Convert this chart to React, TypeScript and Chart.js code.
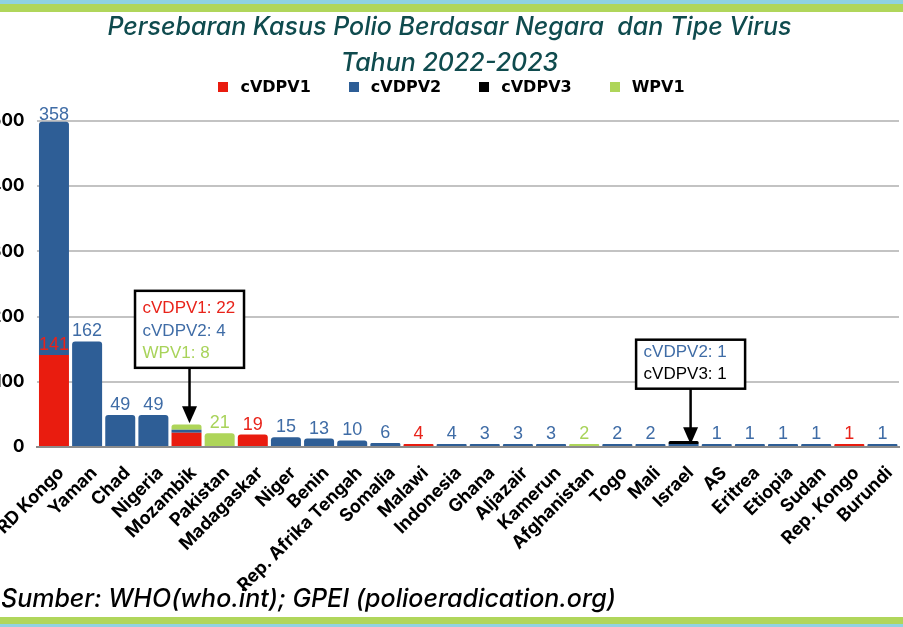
import React, { useEffect, useRef } from "react";
import { Chart, registerables } from "chart.js";

Chart.register(...registerables);

const categories = [
  "RD Kongo", "Yaman", "Chad", "Nigeria", "Mozambik", "Pakistan", "Madagaskar",
  "Niger", "Benin", "Rep. Afrika Tengah", "Somalia", "Malawi", "Indonesia", "Ghana",
  "Aljazair", "Kamerun", "Afghanistan", "Togo", "Mali", "Israel", "AS", "Eritrea",
  "Etiopia", "Sudan", "Rep. Kongo", "Burundi",
];

const seriesNames = ["cVDPV1", "cVDPV2", "cVDPV3", "WPV1"];

const cVDPV1 = [141, 0, 0, 0, 22, 0, 19, 0, 0, 0, 0, 4, 0, 0, 0, 0, 0, 0, 0, 0, 0, 0, 0, 0, 1, 0];
const cVDPV2 = [358, 162, 49, 49, 4, 0, 0, 15, 13, 10, 6, 0, 4, 3, 3, 3, 0, 2, 2, 1, 1, 1, 1, 1, 0, 1];
const cVDPV3 = [0, 0, 0, 0, 0, 0, 0, 0, 0, 0, 0, 0, 0, 0, 0, 0, 0, 0, 0, 1, 0, 0, 0, 0, 0, 0];
const WPV1 = [0, 0, 0, 0, 8, 21, 0, 0, 0, 0, 0, 0, 0, 0, 0, 0, 2, 0, 0, 0, 0, 0, 0, 0, 0, 0];

const yTicks = [0, 100, 200, 300, 400, 500];

const barColors = ["#e91c0f", "#2e5e96", "#000000", "#aed559"];
const labelColors = ["#e8231a", "#3f6ca6", "#000000", "#a8d35a"];

// categories whose values are shown in a call-out box instead of above the bar
const calloutCategories = ["Mozambik", "Israel"];
const calloutDx = [3, 7];
const calloutHeights = [77, 49];

const TITLE_COLOR = "#0f4b4e";

export default function App() {
  const canvasRef = useRef<HTMLCanvasElement | null>(null);

  useEffect(() => {
    const canvas = canvasRef.current;
    if (!canvas) return;
    const allSeries = [cVDPV1, cVDPV2, cVDPV3, WPV1];

    const labelsPlugin = {
      id: "valueLabels",
      afterDatasetsDraw(chart: any) {
        const ctx = chart.ctx;
        const area = chart.chartArea;
        const ys = chart.scales.y;
        const xs = chart.scales.x;
        ctx.save();
        ctx.font = '18px "Liberation Sans", Arial, sans-serif';
        ctx.textAlign = "center";
        ctx.textBaseline = "alphabetic";
        chart.data.datasets.forEach((ds: any, di: number) => {
          const meta = chart.getDatasetMeta(di);
          meta.data.forEach((bar: any, i: number) => {
            const v = ds.data[i];
            if (!v || calloutCategories.includes(categories[i])) return;
            ctx.fillStyle = labelColors[di];
            const y = Math.max(bar.y - 5, area.top - 1);
            ctx.fillText(String(v), bar.x, y);
          });
        });

        // call-outs
        calloutCategories.forEach((cat, ci) => {
          const idx = categories.indexOf(cat);
          let total = 0;
          allSeries.forEach((s) => (total += s[idx]));
          const top = ys.getPixelForValue(total);
          const bx = xs.getPixelForValue(idx);
          const cx = bx + calloutDx[ci];
          const w = 109;
          const h = calloutHeights[ci];
          const bottom = top - 57;
          const left = cx - w / 2;
          const lines: { text: string; color: string }[] = [];
          allSeries.forEach((s, si) => {
            if (s[idx] > 0) lines.push({ text: `${seriesNames[si]}: ${s[idx]}`, color: labelColors[si] });
          });
          ctx.fillStyle = "#ffffff";
          ctx.fillRect(left, bottom - h, w, h);
          ctx.lineWidth = 2.5;
          ctx.strokeStyle = "#000000";
          ctx.strokeRect(left, bottom - h, w, h);
          ctx.font = '17px "Liberation Sans", Arial, sans-serif';
          ctx.textAlign = "left";
          lines.forEach((ln, li) => {
            ctx.fillStyle = ln.color;
            const baseline = bottom - 9.5 - (lines.length - 1 - li) * 22.5;
            ctx.fillText(ln.text, left + 7.5, baseline);
          });
          // arrow
          const tip = top - 1.5;
          const headLen = 17;
          ctx.beginPath();
          ctx.moveTo(cx, bottom);
          ctx.lineTo(cx, tip - headLen + 2);
          ctx.stroke();
          ctx.beginPath();
          ctx.moveTo(cx - 7.5, tip - headLen);
          ctx.lineTo(cx + 7.5, tip - headLen);
          ctx.lineTo(cx, tip);
          ctx.closePath();
          ctx.fillStyle = "#000000";
          ctx.fill();
        });
        ctx.restore();
      },
      afterDraw(chart: any) {
        const ctx = chart.ctx;
        const xs = chart.scales.x;
        ctx.save();
        ctx.font = '700 18px Inter, sans-serif';
        ctx.fillStyle = "#000000";
        ctx.textAlign = "right";
        ctx.textBaseline = "middle";
        categories.forEach((c, i) => {
          const x = xs.getPixelForValue(i) + 7;
          const y = chart.chartArea.bottom + 23;
          ctx.save();
          ctx.translate(x, y);
          ctx.rotate(-Math.PI / 4);
          ctx.fillText(c, 0, 0);
          ctx.restore();
        });
        ctx.restore();
      },
    };

    const chart = new Chart(canvas, {
      type: "bar",
      data: {
        labels: categories,
        datasets: allSeries.map((s, i) => ({
          label: seriesNames[i],
          data: s.map((v) => (v > 0 ? v : null)),
          backgroundColor: barColors[i],
          borderRadius: 3,
          borderSkipped: "start",
          barPercentage: 0.905,
          categoryPercentage: 1,
          minBarLength: 3,
        })),
      },
      options: {
        animation: false,
        responsive: false,
        maintainAspectRatio: false,
        layout: { padding: { top: 121, bottom: 180, left: 0, right: 4 } },
        plugins: {
          legend: { display: false },
          tooltip: { enabled: false },
          title: { display: false },
        },
        scales: {
          x: {
            stacked: true,
            ticks: { display: false },
            grid: { display: false, drawTicks: false },
            border: { display: true, color: "#8c8c8c", width: 2 },
          },
          y: {
            stacked: true,
            min: 0,
            max: 500,
            afterBuildTicks: (axis: any) => {
              axis.ticks = yTicks.map((v) => ({ value: v }));
            },
            afterFit: (axis: any) => {
              axis.width = 57.4;
            },
            ticks: {
              padding: 13,
              color: "#000000",
              font: { family: "Inter, sans-serif", size: 17, weight: "bold" },
            },
            grid: {
              drawTicks: false,
              color: "#c3c3c3",
              lineWidth: 2,
            },
            border: { display: false },
          },
        },
      },
      plugins: [labelsPlugin],
    });
    return () => chart.destroy();
  }, []);

  return (
    <div
      style={{
        position: "fixed",
        left: 0,
        top: 0,
        width: 903,
        height: 627,
        overflow: "hidden",
        background: "#ffffff",
      }}
    >
      <div style={{ position: "absolute", left: 0, top: 0, width: 903, height: 4, background: "#8fd2e2" }} />
      <div style={{ position: "absolute", left: 0, top: 4, width: 903, height: 8, background: "#b0d65b" }} />
      <canvas
        ref={canvasRef}
        width={923}
        height={627}
        style={{ position: "absolute", left: -20, top: 0, width: 923, height: 627 }}
      />
      <div
        style={{
          position: "absolute",
          left: -2,
          top: 8,
          width: 903,
          textAlign: "center",
          fontFamily: "Inter, sans-serif",
          fontStyle: "italic",
          fontWeight: 500,
          fontSize: 25,
          lineHeight: "36px",
          color: TITLE_COLOR,
          whiteSpace: "pre",
        }}
      >
        <div>{"Persebaran Kasus Polio Berdasar Negara  dan Tipe Virus"}</div>
        <div>{"Tahun 2022-2023"}</div>
      </div>
      <div
        style={{
          position: "absolute",
          left: 0,
          top: 77,
          width: 903,
          display: "flex",
          justifyContent: "center",
          gap: 38,
          fontFamily: '"DejaVu Sans", sans-serif',
          fontWeight: 700,
          fontSize: 16,
          lineHeight: "20px",
          color: "#000000",
        }}
      >
        {seriesNames.map((n, i) => (
          <div key={n} style={{ display: "flex", alignItems: "center" }}>
            <span style={{ display: "inline-block", width: 10, height: 10, background: barColors[i], marginRight: 12 }} />
            <span>{n}</span>
          </div>
        ))}
      </div>
      <div
        style={{
          position: "absolute",
          left: 1,
          top: 584,
          fontFamily: "Inter, sans-serif",
          fontStyle: "italic",
          fontWeight: 500,
          fontSize: 25,
          lineHeight: "28px",
          color: "#000000",
          whiteSpace: "pre",
        }}
      >
        {"Sumber: WHO(who.int); GPEI (polioeradication.org)"}
      </div>
      <div style={{ position: "absolute", left: 0, top: 617, width: 903, height: 7, background: "#b0d65b" }} />
      <div style={{ position: "absolute", left: 0, top: 624, width: 903, height: 3, background: "#8fd2e2" }} />
    </div>
  );
}
